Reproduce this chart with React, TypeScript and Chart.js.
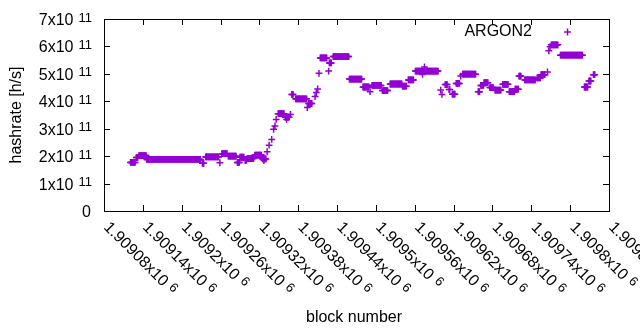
import React, { useEffect, useRef } from "react";
import { Chart, registerables } from "chart.js";

Chart.register(...registerables);

// Run-length readings of the scatter: blocks runFrom[i]..runTo[i] share hashrate runRate[i] (x1e11 h/s)
const runFrom = [
  1909121, 1909130, 1909134, 1909146, 1909232, 1909237, 1909259, 1909262, 1909272, 1909286,
  1909290, 1909298, 1909301, 1909313, 1909325, 1909327, 1909332, 1909335, 1909339, 1909342,
  1909344, 1909346, 1909349, 1909360, 1909362, 1909368, 1909370, 1909376, 1909394, 1909396,
  1909406, 1909408, 1909410, 1909412, 1909414, 1909427, 1909428, 1909434, 1909459, 1909480,
  1909491, 1909494, 1909510, 1909522, 1909541, 1909550, 1909561, 1909575, 1909572, 1909600,
  1909602, 1909607, 1909613, 1909618, 1909624, 1909631, 1909634, 1909658, 1909662, 1909667,
  1909676, 1909684, 1909696, 1909706, 1909715, 1909721, 1909730, 1909749, 1909755, 1909765,
  1909767, 1909769, 1909771, 1909785, 1909822, 1909829, 1909836,
];
const runTo = [
  1909128, 1909132, 1909145, 1909229, 1909234, 1909257, 1909259, 1909270, 1909284, 1909289,
  1909296, 1909300, 1909311, 1909323, 1909330, 1909327, 1909332, 1909335, 1909339, 1909342,
  1909344, 1909346, 1909358, 1909366, 1909362, 1909368, 1909372, 1909393, 1909394, 1909401,
  1909406, 1909408, 1909410, 1909412, 1909424, 1909427, 1909431, 1909458, 1909478, 1909489,
  1909491, 1909508, 1909518, 1909540, 1909547, 1909558, 1909596, 1909575, 1909572, 1909600,
  1909602, 1909610, 1909614, 1909622, 1909629, 1909631, 1909654, 1909660, 1909666, 1909673,
  1909681, 1909693, 1909704, 1909714, 1909720, 1909724, 1909746, 1909754, 1909761, 1909765,
  1909767, 1909769, 1909781, 1909819, 1909827, 1909832, 1909838,
];
const runRate = [
  1.77, 1.95, 2.02, 1.88, 1.74, 1.97, 1.76, 2.09, 2.0, 1.77,
  1.96, 1.85, 1.91, 2.04, 1.9, 1.84, 2.16, 2.4, 2.61, 2.98,
  3.1, 3.34, 3.55, 3.42, 3.34, 3.52, 4.25, 4.09, 3.77, 3.92,
  4.17, 4.32, 4.45, 5.02, 5.58, 5.1, 5.4, 5.63, 4.81, 4.52,
  4.35, 4.58, 4.39, 4.63, 4.55, 4.78, 5.1, 5.25, 4.98, 4.41,
  4.25, 4.61, 4.43, 4.26, 4.65, 4.92, 4.99, 4.35, 4.58, 4.68,
  4.5, 4.41, 4.62, 4.35, 4.44, 4.92, 4.78, 4.85, 4.97, 5.07,
  5.84, 5.99, 6.06, 5.68, 4.52, 4.74, 4.97,
];

const xTickValues = [
  1909080, 1909140, 1909200, 1909260, 1909320, 1909380, 1909440,
  1909500, 1909560, 1909620, 1909680, 1909740, 1909800, 1909860,
];
const xTickLabels = [
  "1.90908", "1.90914", "1.9092", "1.90926", "1.90932", "1.90938", "1.90944",
  "1.9095", "1.90956", "1.90962", "1.90968", "1.90974", "1.9098", "1.90986",
];
const xTickExponent = "6";
const yTickValues = [0, 1e11, 2e11, 3e11, 4e11, 5e11, 6e11, 7e11];
const yTickLabels = ["0", "1", "2", "3", "4", "5", "6", "7"];
const yTickExponent = "11";

const seriesLabel = "ARGON2";
const xTitle = "block number";
const yTitle = "hashrate [h/s]";

const COLOR = "#9400D3";
const FONT = '"Liberation Sans", Arial, sans-serif';
const MAIN = 16;
const SUP = 13;

function drawCross(ctx: CanvasRenderingContext2D, x: number, y: number, r: number) {
  ctx.beginPath();
  ctx.moveTo(x - r, y);
  ctx.lineTo(x + r, y);
  ctx.moveTo(x, y - r);
  ctx.lineTo(x, y + r);
  ctx.stroke();
}

const decoPlugin = {
  id: "gnuplotDeco",
  afterDatasetsDraw(chart: any) {
    const { ctx, chartArea: a, scales } = chart;
    const xs = scales.x;
    const ys = scales.y;
    ctx.save();
    ctx.strokeStyle = "#000";
    ctx.lineWidth = 1;
    ctx.strokeRect(a.left + 0.5, a.top + 0.5, a.right - a.left, a.bottom - a.top);
    ctx.beginPath();
    yTickValues.forEach((v) => {
      const y = Math.round(ys.getPixelForValue(v)) + 0.5;
      ctx.moveTo(a.left, y);
      ctx.lineTo(a.left + 6, y);
      ctx.moveTo(a.right, y);
      ctx.lineTo(a.right - 6, y);
    });
    xTickValues.forEach((v) => {
      const x = Math.round(xs.getPixelForValue(v)) + 0.5;
      ctx.moveTo(x, a.bottom);
      ctx.lineTo(x, a.bottom - 6);
      ctx.moveTo(x, a.top);
      ctx.lineTo(x, a.top + 6);
    });
    ctx.stroke();

    ctx.fillStyle = "#000";
    ctx.textBaseline = "alphabetic";
    // y tick labels
    yTickValues.forEach((v, i) => {
      const y = ys.getPixelForValue(v);
      const right = a.left - 12;
      if (v === 0) {
        ctx.font = `${MAIN}px ${FONT}`;
        ctx.textAlign = "right";
        ctx.fillText(yTickLabels[i], right - 1, y + 5.5);
        return;
      }
      const main = `${yTickLabels[i]}x10`;
      ctx.font = `${SUP}px ${FONT}`;
      const sw = ctx.measureText(yTickExponent).width;
      ctx.textAlign = "right";
      ctx.fillText(yTickExponent, right, y + 2.5);
      ctx.font = `${MAIN}px ${FONT}`;
      ctx.fillText(main, right - sw - 5, y + 6);
    });
    // x tick labels, rotated -45 deg (down-right)
    xTickValues.forEach((v, i) => {
      const x = xs.getPixelForValue(v);
      ctx.save();
      ctx.translate(x + 3, a.bottom + 13);
      ctx.rotate(Math.PI / 4);
      ctx.textAlign = "left";
      ctx.font = `${MAIN}px ${FONT}`;
      const main = `${xTickLabels[i]}x10`;
      ctx.fillText(main, 0, 5.5);
      const w = ctx.measureText(main).width;
      ctx.font = `${SUP}px ${FONT}`;
      ctx.fillText(xTickExponent, w + 5, 2);
      ctx.restore();
    });
    // axis titles
    ctx.font = `${MAIN}px ${FONT}`;
    ctx.textAlign = "center";
    ctx.textBaseline = "alphabetic";
    ctx.fillText(xTitle, 354, 321.5);
    ctx.textBaseline = "middle";
    ctx.save();
    ctx.translate(17, (a.top + a.bottom) / 2);
    ctx.rotate(-Math.PI / 2);
    ctx.fillText(yTitle, 0, 0);
    ctx.restore();
    // key
    ctx.textAlign = "right";
    ctx.fillText(seriesLabel, 532, 32);
    ctx.strokeStyle = COLOR;
    ctx.lineWidth = 1.5;
    drawCross(ctx, 567.5, 32, 3.4);
    ctx.restore();
  },
};

export default function App() {
  const ref = useRef<HTMLCanvasElement | null>(null);
  useEffect(() => {
    if (!ref.current) return;
    const points: { x: number; y: number }[] = [];
    for (let i = 0; i < runFrom.length; i++) {
      for (let b = runFrom[i]; b <= runTo[i]; b++) {
        points.push({ x: b, y: runRate[i] * 1e11 });
      }
    }
    const chart = new Chart(ref.current, {
      type: "scatter",
      data: {
        datasets: [
          {
            label: seriesLabel,
            data: points,
            pointStyle: "cross",
            pointRadius: 3.4,
            pointHoverRadius: 3.4,
            pointBorderWidth: 1.5,
            borderColor: COLOR,
            backgroundColor: COLOR,
            showLine: false,
          },
        ],
      },
      options: {
        responsive: false,
        animation: false,
        devicePixelRatio: 1,
        events: [],
        layout: { padding: { left: 104, right: 31, top: 19, bottom: 119 } },
        plugins: { legend: { display: false }, tooltip: { enabled: false }, title: { display: false } },
        scales: {
          x: { type: "linear", display: false, min: 1909080, max: 1909860 },
          y: { type: "linear", display: false, min: 0, max: 7e11 },
        },
      },
      plugins: [decoPlugin],
    });
    return () => chart.destroy();
  }, []);
  return (
    <div style={{ position: "absolute", left: 0, top: 0, width: 640, height: 330, background: "#fff" }}>
      <canvas ref={ref} width={640} height={330} style={{ width: 640, height: 330, display: "block" }} />
    </div>
  );
}
